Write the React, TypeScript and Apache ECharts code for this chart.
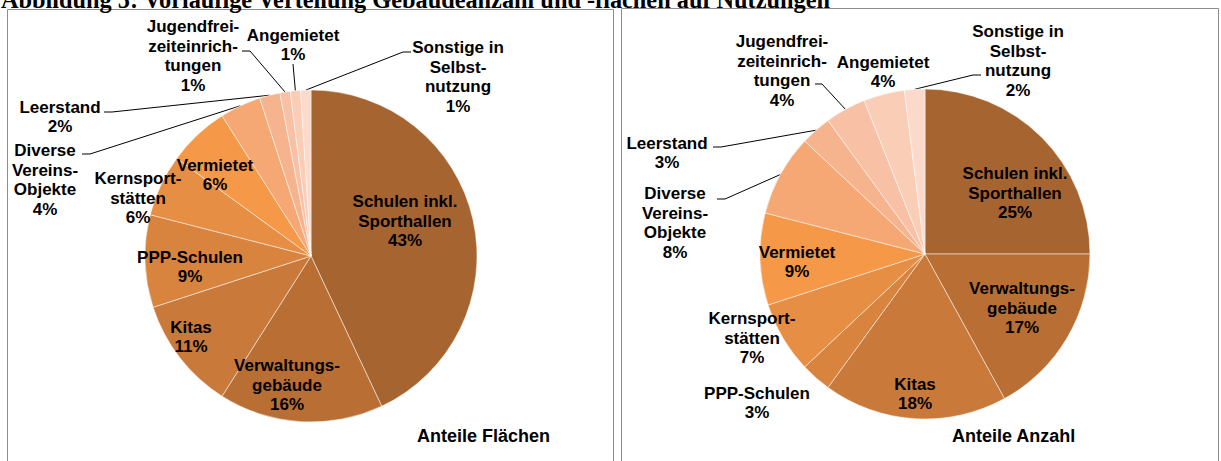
import React, { useEffect, useRef } from "react";
import * as echarts from "echarts";

const categories = [
  "Schulen inkl.\nSporthallen",
  "Verwaltungs-\ngebäude",
  "Kitas",
  "PPP-Schulen",
  "Kernsport-\nstätten",
  "Vermietet",
  "Diverse\nVereins-\nObjekte",
  "Leerstand",
  "Jugendfrei-\nzeiteinrich-\ntungen",
  "Angemietet",
  "Sonstige in\nSelbst-\nnutzung",
];

const flaechenValues = [43, 16, 11, 9, 6, 6, 4, 2, 1, 1, 1];
const anzahlValues = [25, 17, 18, 3, 7, 9, 8, 3, 4, 4, 2];

const sliceColors = [
  "#A66530",
  "#B96F34",
  "#C97A3A",
  "#D8843F",
  "#E78E45",
  "#F59848",
  "#F5A873",
  "#F6B48E",
  "#F8C1A5",
  "#FACDB7",
  "#FCDACB",
];

const captionText =
  "Abbildung 5: Vorläufige Verteilung Gebäudeanzahl und -flächen auf Nutzungen";
const panelTitles = ["Anteile Flächen", "Anteile Anzahl"];

// layout (label anchor positions and leader-line elbows), not data
type LabelPos = { x: number; y: number; line?: number[][]; inside?: boolean };

const leftLayout: LabelPos[] = [
  { x: 405, y: 221, inside: true },
  { x: 287, y: 385, inside: true },
  { x: 191, y: 337, inside: true },
  { x: 190, y: 267, inside: true },
  { x: 138, y: 198, inside: true },
  { x: 215, y: 175, inside: true },
  { x: 45, y: 180, line: [[90, 154], [82, 154]] },
  { x: 60, y: 117, line: [[112, 112], [104, 112]] },
  { x: 193, y: 56, line: [[250, 51], [242, 51]] },
  { x: 293, y: 45, line: [[293, 64], [293, 64]] },
  { x: 458, y: 77, line: [[403, 52], [411, 52]] },
];

const rightLayout: LabelPos[] = [
  { x: 1015, y: 193, inside: true },
  { x: 1022, y: 308, inside: true },
  { x: 915, y: 394, inside: true },
  { x: 757, y: 403 },
  { x: 752, y: 338, inside: true },
  { x: 797, y: 262, inside: true },
  { x: 675, y: 223, line: [[725, 199], [717, 199]] },
  { x: 667, y: 153, line: [[721, 147], [713, 147]] },
  { x: 782, y: 71, line: [[822, 84], [815, 84]] },
  { x: 883, y: 72 },
  { x: 1018, y: 61, line: [[973, 75], [981, 75]] },
];

const pies = [
  { values: flaechenValues, center: [311, 256], radius: 166, layout: leftLayout },
  { values: anzahlValues, center: [925, 254], radius: 165, layout: rightLayout },
];

const labelFont = {
  fontFamily: "'Liberation Sans', Arial, sans-serif",
  fontWeight: "bold" as const,
  fontSize: 17,
  lineHeight: 19.5,
  color: "#000",
};

function edgePoint(values: number[], idx: number, center: number[], r: number) {
  const total = values.reduce((a, b) => a + b, 0);
  let before = 0;
  for (let i = 0; i < idx; i++) before += values[i];
  const mid = ((before + values[idx] / 2) / total) * Math.PI * 2;
  return [center[0] + r * Math.sin(mid), center[1] - r * Math.cos(mid)];
}

function buildSeries(p: (typeof pies)[number]) {
  return {
    type: "pie",
    center: p.center,
    radius: p.radius,
    startAngle: 90,
    clockwise: true,
    avoidLabelOverlap: false,
    color: sliceColors,
    itemStyle: { borderColor: "rgba(255,255,255,0.7)", borderWidth: 0.7 },
    emphasis: { disabled: true },
    label: {
      show: true,
      formatter: (prm: any) => `${prm.name}\n${prm.value}%`,
      align: "center",
      ...labelFont,
    },
    labelLine: {
      show: true,
      length: 10,
      length2: 10,
      lineStyle: { color: "#000", width: 1 },
    },
    data: p.values.map((v, i) => {
      const lay = p.layout[i];
      return {
        name: categories[i],
        value: v,
        label: { position: lay.inside ? "inside" : "outside" },
        labelLine: { show: !!lay.line },
      };
    }),
    labelLayout: (prm: any) => {
      const i = prm.dataIndex;
      const lay = p.layout[i];
      const out: any = { x: lay.x, y: lay.y, align: "center", verticalAlign: "middle" };
      if (lay.line) {
        const s = edgePoint(p.values, i, p.center, p.radius);
        out.labelLinePoints = [s, lay.line[0], lay.line[1]];
      }
      return out;
    },
  };
}

export default function App() {
  const ref = useRef<HTMLDivElement>(null);
  useEffect(() => {
    if (!ref.current) return;
    const chart = echarts.init(ref.current, undefined, { renderer: "svg" });
    const titleStyle = { ...labelFont, fontSize: 18, lineHeight: 22, color: "#000" };
    chart.setOption({
      animation: false,
      backgroundColor: "#fff",
      title: [
        { text: panelTitles[0], left: 417, top: 425, padding: 0, textStyle: titleStyle },
        { text: panelTitles[1], left: 952, top: 425, padding: 0, textStyle: titleStyle },
      ],
      graphic: [
        {
          type: "rect",
          shape: { x: 7.5, y: 9.5, width: 606, height: 470 },
          style: { fill: "none", stroke: "#8c8c8c", lineWidth: 1 },
          z: -1,
        },
        {
          type: "rect",
          shape: { x: 621.5, y: 8.5, width: 597, height: 470 },
          style: { fill: "none", stroke: "#8c8c8c", lineWidth: 1 },
          z: -1,
        },
        {
          type: "text",
          x: 1,
          y: -13,
          style: {
            text: captionText,
            fontFamily: "'Liberation Serif', 'Times New Roman', serif",
            fontWeight: "bold",
            fontSize: 24.3,
            fill: "#000",
            textVerticalAlign: "top",
          },
        },
      ],
      series: pies.map(buildSeries),
    });
    return () => chart.dispose();
  }, []);
  return (
    <div
      ref={ref}
      style={{ position: "absolute", left: 0, top: 0, width: 1221, height: 461 }}
    />
  );
}
